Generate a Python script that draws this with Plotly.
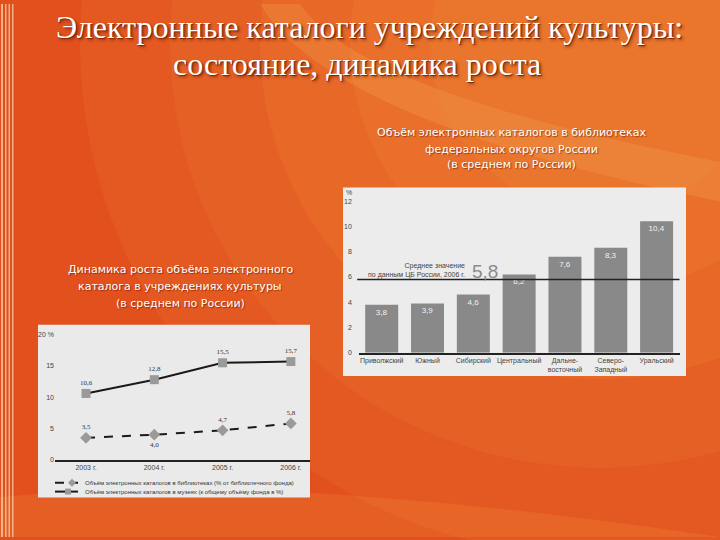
import plotly.graph_objects as go

# ---------------- data ----------------
districts = ["Приволжский", "Южный", "Сибирский", "Центральный",
             "Дальне-<br>восточный", "Северо-<br>Западный", "Уральский"]
district_values = [3.8, 3.9, 4.6, 6.2, 7.6, 8.3, 10.4]
russia_mean = 5.8

years = ["2003 г.", "2004 г.", "2005 г.", "2006 г."]
museums = [10.6, 12.8, 15.5, 15.7]
libraries = [3.5, 4.0, 4.7, 5.8]

name_libraries = "Объём электронных каталогов в библиотеках (% от библиотечного фонда)"
name_museums = "Объём электронных каталогов в музеях (к общему объёму фонда в %)"

bar_ticks = [0, 2, 4, 6, 8, 10, 12]
line_ticks = [0, 5, 10, 15, 20]
line_tick_text = ["0", "5", "10", "15", "20 %"]

title_lines = ["Электронные каталоги учреждений культуры:", "состояние, динамика роста"]
right_sub = ["Объём электронных каталогов в библиотеках",
             "федеральных округов России", "(в среднем по России)"]
left_sub = ["Динамика роста объёма электронного",
            "каталога в учреждениях культуры", "(в среднем по России)"]


def fmt(v):
    return f"{v:.1f}".replace(".", ",")


W, H = 720, 540


def px(x):
    return x / W


def py(y):
    return 1 - y / H


fig = go.Figure()

# ---------- left chart: lines ----------
fig.add_trace(go.Scatter(
    x=years, y=libraries, xaxis="x2", yaxis="y2",
    mode="lines+markers+text", name=name_libraries, showlegend=False,
    line=dict(color="#1a1a1a", width=2, dash="dash"),
    marker=dict(symbol="diamond", size=9, color="#9a9a9a", line=dict(width=0)),
    text=[fmt(v) for v in libraries],
    textposition=["top center", "bottom center", "top center", "top center"],
    textfont=dict(size=7, color="#333333", family="Liberation Serif"),
    cliponaxis=False,
))
fig.add_trace(go.Scatter(
    x=years, y=museums, xaxis="x2", yaxis="y2",
    mode="lines+markers+text", name=name_museums, showlegend=False,
    line=dict(color="#1a1a1a", width=2),
    marker=dict(symbol="square", size=9, color="#9a9a9a", line=dict(width=0)),
    text=[fmt(v) for v in museums],
    textposition="top center",
    textfont=dict(size=7, color="#333333", family="Liberation Serif"),
    cliponaxis=False,
))

# ---------- right chart: bars ----------
fig.add_trace(go.Bar(
    x=list(range(len(districts))), y=district_values, xaxis="x", yaxis="y",
    marker=dict(color="#898989", line=dict(width=0)),
    text=[fmt(v) for v in district_values],
    textposition="inside", insidetextanchor="end",
    textfont=dict(size=8, color="#f2f2f2", family="Liberation Sans"),
    showlegend=False, width=0.72,
))

shapes = []
# background glow
for r, op in [(520, 0.10), (430, 0.10), (340, 0.12), (250, 0.12), (170, 0.12)]:
    cx, cy = 600, 40
    shapes.append(dict(type="circle", xref="paper", yref="paper",
                       x0=px(cx - r), x1=px(cx + r), y0=py(cy + r), y1=py(cy - r),
                       fillcolor="#F7A441", opacity=op, line=dict(width=0), layer="below"))
# swoosh bands
shapes.append(dict(type="path", xref="paper", yref="paper",
                   path=f"M {px(260)},{py(0)} Q {px(330)},{py(120)} {px(720)},{py(200)} L {px(720)},{py(160)} Q {px(360)},{py(90)} {px(300)},{py(0)} Z",
                   fillcolor="#FBC070", opacity=0.18, line=dict(width=0), layer="below"))
shapes.append(dict(type="path", xref="paper", yref="paper",
                   path=f"M {px(0)},{py(500)} Q {px(250)},{py(470)} {px(720)},{py(540)} L {px(0)},{py(540)} Z",
                   fillcolor="#F08A3A", opacity=0.25, line=dict(width=0), layer="below"))
# left stripes
for x0, x1 in [(1, 3), (5, 6.5), (8.5, 10), (12, 13.5)]:
    shapes.append(dict(type="rect", xref="paper", yref="paper",
                       x0=px(x0), x1=px(x1), y0=0, y1=1,
                       fillcolor="#F6D9B8", opacity=0.7, line=dict(width=0), layer="below"))
# panels
shapes.append(dict(type="rect", xref="paper", yref="paper",
                   x0=px(343), x1=px(686), y0=py(377), y1=py(186),
                   fillcolor="#ECECEC", line=dict(width=0), layer="below"))
shapes.append(dict(type="rect", xref="paper", yref="paper",
                   x0=px(38), x1=px(310), y0=py(500), y1=py(325),
                   fillcolor="#EAEAEA", line=dict(width=0), layer="below"))
# mean line
shapes.append(dict(type="line", xref="x domain", yref="y",
                   x0=-0.005, x1=1.0, y0=russia_mean, y1=russia_mean,
                   line=dict(color="#222222", width=1.5), layer="above"))

# manual legend (compact, as in the original)
leg_rows = [(485, "dash", "diamond", name_libraries), (494, "solid", "square", name_museums)]
for ly, dash, sym, _ in leg_rows:
    shapes.append(dict(type="line", xref="paper", yref="paper",
                       x0=px(55), x1=px(78), y0=py(ly), y1=py(ly),
                       line=dict(color="#1a1a1a", width=2, dash="dash" if dash == "dash" else "solid")))
    if sym == "square":
        shapes.append(dict(type="rect", xref="paper", yref="paper",
                           x0=px(65), x1=px(71), y0=py(ly + 3), y1=py(ly - 3),
                           fillcolor="#9a9a9a", line=dict(width=0)))
    else:
        shapes.append(dict(type="path", xref="paper", yref="paper",
                           path=f"M {px(72)},{py(ly - 4)} L {px(76)},{py(ly)} L {px(72)},{py(ly + 4)} L {px(68)},{py(ly)} Z",
                           fillcolor="#9a9a9a", line=dict(width=0)))

title_font = dict(family="Liberation Serif", size=32, color="white",
                  shadow="1px 1px 0px #8a2a00, 2px 2px 3px rgba(60,10,0,0.55)")
sub_font = dict(family="DejaVu Sans", size=11, color="white",
                shadow="1px 1px 1px rgba(80,20,0,0.55)")

annotations = [
    dict(text=title_lines[0], x=px(370), y=py(23), font=title_font),
    dict(text=title_lines[1], x=px(357), y=py(60.5), font=title_font),
]
for t, yy in zip(right_sub, [130, 147, 163]):
    annotations.append(dict(text=t, x=px(511), y=py(yy), font=sub_font))
for t, yy in zip(left_sub, [269, 286, 303]):
    annotations.append(dict(text=t, x=px(180), y=py(yy), font=sub_font))
annotations += [
    dict(text="Среднее значение<br>по данным ЦБ России, 2006 г.", x=px(467), y=py(270),
         xanchor="right", align="right",
         font=dict(family="Liberation Sans", size=7, color="#444444")),
    dict(text=fmt(russia_mean), x=px(470), y=py(271), xanchor="left",
         font=dict(family="Liberation Sans", size=19, color="#8a8a8a")),
    dict(text="%", x=px(349), y=py(191),
         font=dict(family="Liberation Sans", size=7, color="#444444")),
]
for ly, _, _, nm in leg_rows:
    annotations.append(dict(text=nm, x=px(83), y=py(ly), xanchor="left",
                            font=dict(family="Liberation Sans", size=6, color="#333333")))

for a in annotations:
    a.update(xref="paper", yref="paper", showarrow=False)
    a.setdefault("xanchor", "center")
    a.setdefault("yanchor", "middle")
    a.setdefault("align", "center")

tick_font = dict(family="Liberation Sans", size=7, color="#444444")

fig.update_layout(
    width=W, height=H,
    margin=dict(l=0, r=0, t=0, b=0),
    paper_bgcolor="#E2501D",
    plot_bgcolor="rgba(0,0,0,0)",
    shapes=shapes,
    annotations=annotations,
    showlegend=False,
    xaxis=dict(domain=[px(358.8), px(679.5)], range=[-0.5, 6.5],
               tickvals=list(range(len(districts))), ticktext=districts,
               tickfont=tick_font, showline=True, linecolor="#222222", linewidth=1.5,
               ticks="", showgrid=False, zeroline=False),
    yaxis=dict(domain=[py(353.3), py(199.7)], range=[0, 12],
               tickvals=bar_ticks, tickfont=tick_font, showgrid=False,
               zeroline=False, showline=False, ticks="", anchor="x",
               ticklabelstandoff=6),
    xaxis2=dict(domain=[px(55), px(310)], range=[-0.454, 3.28], type="category",
                tickfont=tick_font, showline=True, linecolor="#222222", linewidth=1.5,
                ticks="", showgrid=False, zeroline=False, anchor="y2"),
    yaxis2=dict(domain=[py(461.7), py(335)], range=[0, 20],
                tickvals=line_ticks, ticktext=line_tick_text, tickfont=tick_font,
                showgrid=False, zeroline=False, showline=False, ticks="",
                anchor="x2"),
)

fig.write_html("out.html", config={"displayModeBar": False},
               post_script="document.body.style.margin='0px';")
